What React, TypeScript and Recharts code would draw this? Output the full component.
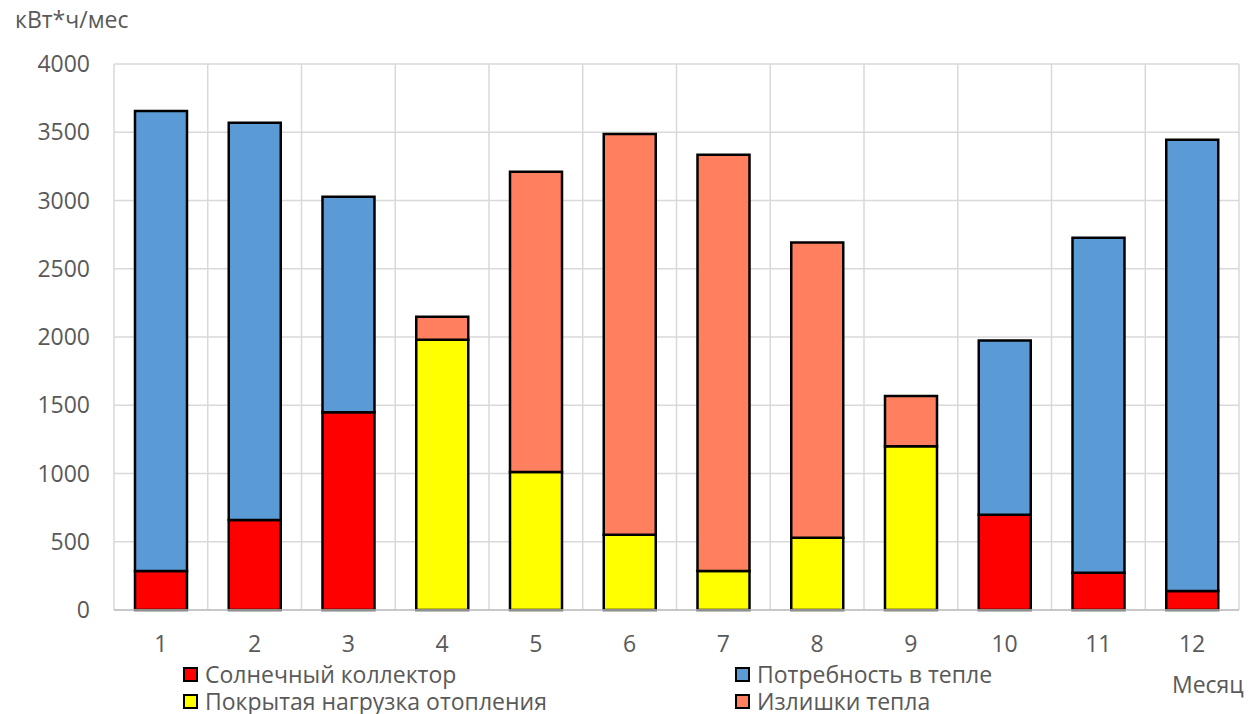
import React from "react";
import { BarChart, Bar, XAxis, YAxis, CartesianGrid } from "recharts";

// Monthly heat balance, kWh per month
const months = ["1", "2", "3", "4", "5", "6", "7", "8", "9", "10", "11", "12"];
const solarCollector = [285, 660, 1448, null, null, null, null, null, null, 697, 272, 140];
const heatDemand = [3370, 2910, 1580, null, null, null, null, null, null, 1278, 2455, 3305];
const coveredHeating = [null, null, null, 1980, 1011, 552, 286, 530, 1200, null, null, null];
const heatSurplus = [null, null, null, 168, 2199, 2935, 3050, 2162, 367, null, null, null];
const yTicks = [0, 500, 1000, 1500, 2000, 2500, 3000, 3500, 4000];

const seriesInfo = [
  { key: "solar", name: "Солнечный коллектор", color: "#FF0000" },
  { key: "demand", name: "Потребность в тепле", color: "#5B9BD5" },
  { key: "covered", name: "Покрытая нагрузка отопления", color: "#FFFF00" },
  { key: "surplus", name: "Излишки тепла", color: "#FF7F5F" },
];

const data = months.map((m, i) => ({
  month: m,
  solar: solarCollector[i],
  demand: heatDemand[i],
  covered: coveredHeating[i],
  surplus: heatSurplus[i],
}));

const FONT = "'Open Sans', 'Noto Sans', sans-serif";
const TEXT = "#595959";
const FS = 23;

const legendLayout = [
  { s: seriesInfo[0], x: 183, y: 662 },
  { s: seriesInfo[1], x: 735, y: 662 },
  { s: seriesInfo[2], x: 183, y: 689 },
  { s: seriesInfo[3], x: 735, y: 689 },
];

export default function App() {
  const W = 1250;
  const H = 714;
  return (
    <div style={{ position: "absolute", left: 0, top: 0, width: W, height: H, background: "#fff", fontFamily: FONT, overflow: "hidden" }}>
      <BarChart
        width={W}
        height={H}
        data={data}
        margin={{ top: 64, right: 11, left: 0, bottom: 74 }}
        barSize={52}
      >
        <CartesianGrid
          stroke="#D9D9D9"
          strokeWidth={1.5}
          verticalCoordinatesGenerator={({ offset }) => {
            const out: number[] = [];
            for (let i = 0; i <= months.length; i++) out.push(offset.left + (i * offset.width) / months.length);
            return out;
          }}
        />
        <XAxis
          dataKey="month"
          height={30}
          tickLine={false}
          axisLine={{ stroke: "#BFBFBF", strokeWidth: 1.5 }}
          tickSize={0}
          tickMargin={26}
          tick={{ fill: TEXT, fontSize: FS, fontFamily: FONT }}
        />
        <YAxis
          width={114}
          domain={[0, 4000]}
          ticks={yTicks}
          interval={0}
          axisLine={false}
          tickLine={false}
          tickSize={0}
          tickMargin={24}
          tick={{ fill: TEXT, fontSize: FS, fontFamily: FONT }}
        />
        {seriesInfo.map((s) => (
          <Bar
            key={s.key}
            dataKey={s.key}
            name={s.name}
            stackId="a"
            fill={s.color}
            stroke="#000"
            strokeWidth={2.5}
            isAnimationActive={false}
          />
        ))}
      </BarChart>
      <div style={{ position: "absolute", left: 15, top: 3, fontSize: FS, color: TEXT, whiteSpace: "nowrap" }}>кВт*ч/мес</div>
      <div style={{ position: "absolute", left: 1172, top: 668, fontSize: FS, color: TEXT, whiteSpace: "nowrap" }}>Месяц</div>
      {legendLayout.map(({ s, x, y }) => (
        <div key={s.key} style={{ position: "absolute", left: x, top: y, display: "flex", alignItems: "center", whiteSpace: "nowrap" }}>
          <span style={{ width: 11, height: 11, background: s.color, border: "2px solid #000", display: "inline-block", marginRight: 7 }} />
          <span style={{ fontSize: FS, color: TEXT, lineHeight: "24px" }}>{s.name}</span>
        </div>
      ))}
    </div>
  );
}
